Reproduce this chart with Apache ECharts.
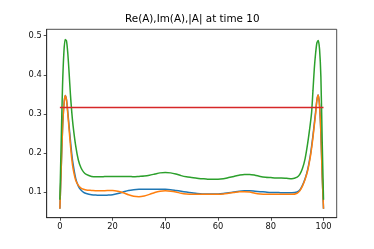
<!DOCTYPE html>
<html><head><meta charset="utf-8">
<script src="https://cdn.jsdelivr.net/npm/echarts@6/dist/echarts.min.js"></script>
<style>html,body{margin:0;padding:0;background:#fff}#c{width:374px;height:249px}</style>
</head><body><div id="c"></div>
<script>
var xs = [0,0.5,1,1.5,2,2.5,3,3.5,4,4.5,5,6,7,8,9,10,12,14,16,18,20,22,24,26,28,30,32,34,36,38,40,42,44,46,48,50,52,54,56,58,60,62,64,66,68,70,72,74,76,78,80,82,84,86,88,90,91,92,93,94,95,95.5,96,96.5,97,97.5,98,98.5,99,99.5,100];
var reA = [0.057,0.16,0.26,0.32,0.347,0.337,0.305,0.268,0.232,0.198,0.172,0.135,0.115,0.105,0.099,0.096,0.093,0.092,0.0915,0.092,0.093,0.096,0.1,0.104,0.106,0.107,0.107,0.107,0.107,0.107,0.107,0.106,0.104,0.102,0.1,0.098,0.096,0.095,0.095,0.095,0.095,0.096,0.098,0.1,0.102,0.103,0.103,0.102,0.101,0.1,0.099,0.099,0.098,0.098,0.098,0.1,0.105,0.117,0.134,0.158,0.194,0.218,0.245,0.275,0.305,0.336,0.348,0.322,0.252,0.142,0.057];
var imA = [0.057,0.16,0.26,0.32,0.347,0.335,0.3,0.26,0.22,0.185,0.16,0.13,0.117,0.11,0.107,0.105,0.104,0.103,0.103,0.104,0.104,0.102,0.098,0.093,0.089,0.088,0.09,0.094,0.099,0.102,0.103,0.102,0.1,0.097,0.095,0.094,0.094,0.094,0.094,0.094,0.094,0.095,0.097,0.099,0.101,0.101,0.1,0.097,0.095,0.094,0.094,0.094,0.094,0.094,0.094,0.097,0.103,0.115,0.132,0.155,0.19,0.213,0.24,0.27,0.3,0.335,0.348,0.32,0.25,0.14,0.057];
var absA = [0.08,0.23,0.37,0.455,0.49,0.487,0.455,0.405,0.35,0.305,0.27,0.218,0.182,0.162,0.151,0.145,0.14,0.139,0.139,0.14,0.14,0.14,0.14,0.14,0.139,0.14,0.141,0.143,0.146,0.149,0.15,0.149,0.146,0.142,0.139,0.137,0.135,0.134,0.133,0.133,0.133,0.134,0.137,0.14,0.143,0.145,0.145,0.143,0.14,0.138,0.137,0.136,0.136,0.135,0.134,0.138,0.145,0.16,0.185,0.225,0.275,0.305,0.36,0.415,0.455,0.482,0.488,0.465,0.395,0.23,0.08];
var refX = [0,100];
var refY = [0.3162,0.3162];
var xTicks = [0,20,40,60,80,100];
var yTicks = [0.1,0.2,0.3,0.4,0.5];
var titleText = 'Re(A),Im(A),|A| at time 10';

function pairs(a,b){return a.map(function(v,i){return [v,b[i]];});}
var lw = 1.5;
var chart = echarts.init(document.getElementById('c'), null, {renderer:'canvas'});
function ser(name, ys, xsArr, color){
  return {name:name,type:'line',data:pairs(xsArr,ys),showSymbol:false,symbol:'none',smooth:0.25,
    lineStyle:{color:color,width:lw},itemStyle:{color:color},animation:false,z:2};
}
chart.setOption({
  animation:false,
  graphic:[{type:'text',left:125,top:14,style:{text:titleText,x:0,y:0,font:'normal 10.4px "DejaVu Sans"',fill:'#000'}}],
  grid:{left:46.7,right:37.3,top:29.3,bottom:31.3,show:true,borderColor:'#222',borderWidth:0.8,backgroundColor:'transparent'},
  xAxis:{type:'value',min:-5,max:105,
    axisLine:{show:true,onZero:false,lineStyle:{color:'#222',width:0.8}},
    axisTick:{show:true,length:3,customValues:xTicks,lineStyle:{color:'#222',width:0.8}},
    axisLabel:{customValues:xTicks,margin:5,fontFamily:'DejaVu Sans',fontSize:8.3,color:'#111',formatter:function(v){return String(v);}},
    splitLine:{show:false}},
  yAxis:{type:'value',min:0.0343,max:0.5164,
    axisLine:{show:true,onZero:false,lineStyle:{color:'#222',width:0.8}},
    axisTick:{show:true,length:3,customValues:yTicks,lineStyle:{color:'#222',width:0.8}},
    axisLabel:{customValues:yTicks,margin:5,fontFamily:'DejaVu Sans',fontSize:8.3,color:'#111',formatter:function(v){return v.toFixed(1);}},
    splitLine:{show:false}},
  series:[
    ser('Re(A)',reA,xs,'#1f77b4'),
    ser('Im(A)',imA,xs,'#ff7f0e'),
    ser('|A|',absA,xs,'#2ca02c'),
    {name:'ref',type:'line',data:pairs(refX,refY),showSymbol:false,symbol:'none',lineStyle:{color:'#d62728',width:lw},z:3}
  ]
});
</script></body></html>
